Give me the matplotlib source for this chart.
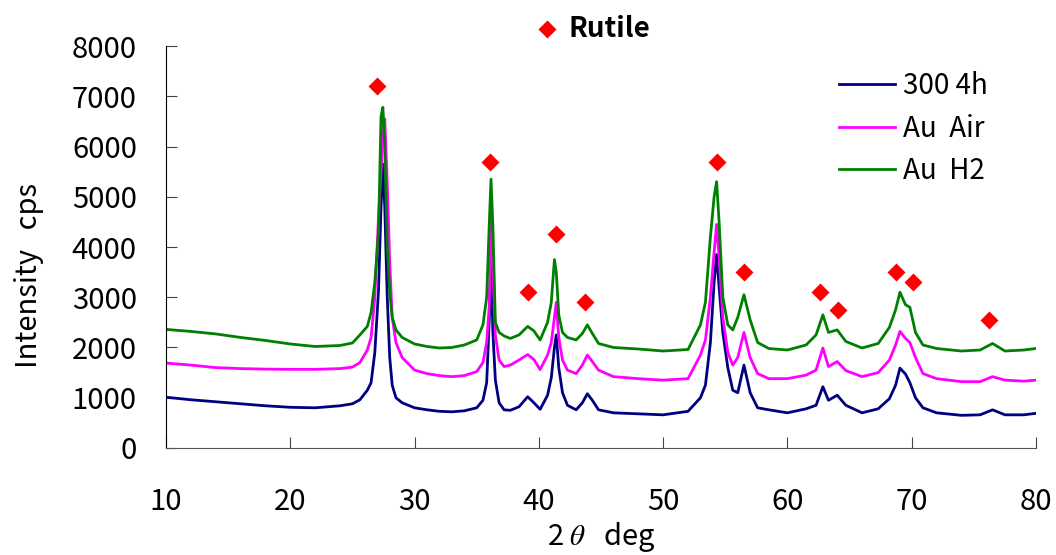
import matplotlib
matplotlib.use('Agg')
import matplotlib.pyplot as plt

plt.rcParams['font.family'] = ['Noto Sans CJK JP', 'DejaVu Sans']
plt.rcParams['mathtext.fontset'] = 'stix'

# 2theta (deg)
two_theta = [10, 12, 14, 16, 18, 20, 22, 24, 25, 25.6, 26.2, 26.5, 26.8, 27.1, 27.3,
             27.45, 27.6, 27.8, 28.0, 28.2, 28.5, 29, 30, 31, 32, 33, 34, 35, 35.5,
             35.8, 36.0, 36.15, 36.3, 36.5, 36.8, 37.2, 37.7, 38.4, 39.1, 39.6, 40.1,
             40.7, 41.0, 41.25, 41.4, 41.6, 41.9, 42.3, 43.0, 43.5, 43.9, 44.3, 44.8,
             46, 48, 50, 52, 53, 53.4, 53.8, 54.1, 54.3, 54.5, 54.8, 55.2, 55.6, 56.0,
             56.5, 57.0, 57.6, 58.5, 60, 61.5, 62.3, 62.85, 63.3, 64.0, 64.7, 66, 67.3,
             68.2, 68.7, 69.05, 69.5, 69.85, 70.3, 70.9, 72, 74, 75.5, 76.5, 77.5, 79, 80]

i_300_4h = [1010, 960, 920, 880, 840, 810, 800, 840, 880, 960, 1150, 1300, 1900, 3150, 4800,
            5650, 4800, 3000, 1800, 1250, 1000, 900, 800, 760, 730, 720, 740, 800, 950,
            1300, 2500, 3750, 2300, 1350, 900, 760, 750, 820, 1020, 900, 770,
            1050, 1400, 2000, 2250, 1600, 1100, 850, 760, 900, 1080, 950, 760,
            700, 680, 660, 730, 1000, 1250, 2100, 3300, 3850, 3200, 2300, 1600, 1150, 1100,
            1650, 1100, 800, 760, 700, 780, 850, 1220, 950, 1050, 850, 700, 780,
            980, 1250, 1590, 1470, 1300, 1000, 800, 700, 650, 660, 760, 660, 660, 690]

i_au_air = [1690, 1650, 1600, 1580, 1570, 1565, 1565, 1580, 1610, 1700, 1950, 2200, 3000, 4600, 5500,
            6200, 6550, 5300, 3700, 2600, 2100, 1800, 1550, 1480, 1440, 1420, 1440, 1520, 1700,
            2100, 2800, 4600, 3600, 2250, 1750, 1620, 1650, 1750, 1860, 1760, 1560,
            1850, 2100, 2600, 2900, 2200, 1750, 1550, 1480, 1650, 1850, 1720, 1550,
            1420, 1380, 1350, 1380, 1850, 2150, 3000, 3900, 4450, 3800, 2600, 1900, 1650, 1800,
            2300, 1800, 1480, 1380, 1380, 1450, 1550, 1990, 1620, 1720, 1540, 1420, 1500,
            1750, 2050, 2320, 2180, 2100, 1800, 1480, 1380, 1320, 1320, 1420, 1350, 1330, 1350]

i_au_h2 = [2360, 2320, 2270, 2200, 2140, 2070, 2020, 2040, 2090, 2250, 2420, 2700, 3300, 4300, 6600,
           6780, 6000, 4000, 3100, 2600, 2350, 2200, 2070, 2020, 1990, 2000, 2050, 2150, 2450,
           3000, 4400, 5350, 4400, 2500, 2300, 2230, 2180, 2250, 2420, 2330, 2150,
           2500, 2900, 3750, 3500, 2650, 2300, 2200, 2150, 2280, 2450, 2280, 2080,
           2000, 1970, 1930, 1960, 2450, 2900, 4200, 5000, 5300, 4500, 3000, 2450, 2350, 2600,
           3050, 2550, 2100, 1980, 1950, 2050, 2250, 2650, 2300, 2350, 2120, 1990, 2080,
           2400, 2750, 3100, 2850, 2800, 2300, 2050, 1980, 1930, 1950, 2080, 1930, 1950, 1980]

# rutile reference marks
rutile_x = [27.0, 36.1, 39.1, 41.4, 43.7, 54.3, 56.5, 62.6, 64.1, 68.7, 70.1, 76.2]
rutile_y = [7200, 5700, 3100, 4250, 2900, 5700, 3500, 3100, 2750, 3500, 3300, 2550]

fig = plt.figure(figsize=(10.56, 5.55), dpi=100)
ax = fig.add_axes([0.1572, 0.1928, 0.8239, 0.7243])

ax.plot(two_theta, i_300_4h, color='#000080', lw=2.0, label='300 4h')
ax.plot(two_theta, i_au_air, color='#FF00FF', lw=2.0, label='Au  Air')
ax.plot(two_theta, i_au_h2, color='#008000', lw=2.0, label='Au  H2')
ax.plot(rutile_x, rutile_y, 'D', color='red', ms=9, mec='none', label='_nolegend_')

ax.set_xlim(10, 80)
ax.set_ylim(0, 8000)
ax.set_xticks(range(10, 81, 10))
ax.set_yticks(range(0, 8001, 1000))

ax.spines['top'].set_visible(False)
ax.spines['right'].set_visible(False)
ax.spines['left'].set_color('black')
ax.spines['bottom'].set_color('#555555')
ax.tick_params(axis='y', direction='in', length=8, color='#444444', labelsize=21, pad=21)
ax.tick_params(axis='x', direction='in', length=8, color='#444444', labelsize=21, pad=28)

ax.legend(loc='upper left', bbox_to_anchor=(0.745, 1.0), frameon=False, fontsize=20,
          handlelength=2.0, handletextpad=0.3, labelspacing=0.45)

# rutile key above the plot
ax.plot([0.518], [0.948], 'D', color='red', ms=9, mec='none', transform=fig.transFigure, clip_on=False)
fig.text(0.538, 0.948, 'Rutile', fontsize=20, fontweight='bold', va='center', ha='left')

fig.text(0.027, 0.503, 'Intensity   cps', fontsize=21, rotation=90, va='center', ha='center')
fig.text(0.569, 0.032, r'2 $\theta$   deg', fontsize=21, va='center', ha='center')

fig.savefig('out.png', dpi=100)
